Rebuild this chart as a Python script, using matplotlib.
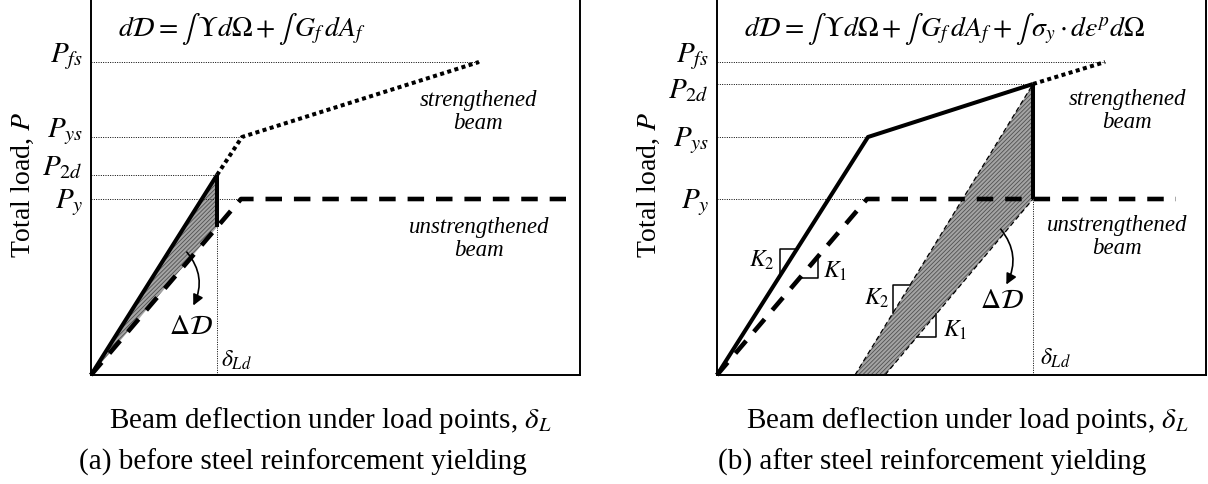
"""Schematic load-deflection diagrams for a strengthened vs unstrengthened beam.

Two panels: (a) debonding before steel yielding, (b) after steel yielding.
Units are arbitrary (schematic), measured from the origin of each panel.
"""

import matplotlib.pyplot as plt
import numpy as np

plt.rcParams["font.family"] = ["Liberation Serif", "DejaVu Serif"]
plt.rcParams["mathtext.fontset"] = "stix"
plt.rcParams["hatch.linewidth"] = 0.6

# --- schematic curves (deflection, load) ---------------------------------
STRENGTH_X = [0, 151, 388]
STRENGTH_Y = [0, 238, 313]
UNSTR_X_A = [0, 150, 475]
UNSTR_X_B = [0, 150, 459]
UNSTR_Y = [0, 176, 176]

# load levels marked on the vertical axis
LEVEL_LABELS_A = [r"$P_{fs}$", r"$P_{ys}$", r"$P_{2d}$", r"$P_{y}$"]
LEVELS_A = [313, 238, 200, 176]
GUIDE_END_A = [388, 151, 126, 150]
LEVEL_LABELS_B = [r"$P_{fs}$", r"$P_{2d}$", r"$P_{ys}$", r"$P_{y}$"]
LEVELS_B = [313, 291, 238, 176]
GUIDE_END_B = [388, 316, 151, 150]

# deflection at debonding and the corresponding loads
DELTA_LD_A = 126
P2D_A = 200
PY_AT_LD_A = 148
DELTA_LD_B = 316
P2D_B = 291
PY_AT_LD_B = 176

# unloading lines of panel (b)
UNLOAD_UPPER_X = [138, 316]
UNLOAD_UPPER_Y = [0, 291]
UNLOAD_LOWER_X = [168, 316]
UNLOAD_LOWER_Y = [0, 176]

EQ_A = r"$d\mathcal{D} = \int\,\Upsilon d\Omega + \int\, G_f\, dA_f$"
EQ_B = (r"$d\mathcal{D} = \int\,\Upsilon d\Omega + \int\, G_f\, dA_f"
        r" + \int\,\sigma_y\cdot d\varepsilon^p d\Omega$")
XLABEL = r"Beam deflection under load points, $\delta_L$"
YLABEL = r"Total load, $P$"
CAPTION_A = "(a) before steel reinforcement yielding"
CAPTION_B = "(b) after steel reinforcement yielding"

FIG_W, FIG_H = 1208, 484
AX_W, AX_H = 489, 378

# baseline shift of each level label relative to its guide line
LABEL_DY_A = [0, 0, 0, -9]
LABEL_DY_B = [0, -14, -9, -9]

SOLID = dict(color="black", lw=2.9, solid_capstyle="butt", clip_on=False)
DASHED = dict(color="black", lw=3.3, linestyle=(0, (3.6, 2.6)),
              dash_capstyle="butt", clip_on=False)
DOTTED = dict(color="black", lw=2.9, linestyle=(0, (1, 0.85)),
              dash_capstyle="butt", clip_on=False)
GUIDE = dict(color="black", lw=0.7, linestyle=(0, (1, 1.4)))
THIN_DASH = dict(color="black", lw=0.9, linestyle=(0, (4, 2.5)))
SHADE = dict(facecolor="#a4a4a4", edgecolor="#505050", hatch="////////", lw=0)


def split_at(xs, ys, x_cut, y_cut):
    """Split a polyline into the part before and after x_cut."""
    xs, ys = np.asarray(xs), np.asarray(ys)
    before, after = xs < x_cut, xs > x_cut
    first = (np.append(xs[before], x_cut), np.append(ys[before], y_cut))
    second = (np.insert(xs[after], 0, x_cut), np.insert(ys[after], 0, y_cut))
    return first, second


def slope_mark(ax, line_x, line_y, xa, xb, upper):
    """Little right-angle slope marker sitting on a straight line."""
    ya, yb = np.interp([xa, xb], line_x, line_y)
    if upper:
        ax.plot([xa, xa, xb], [ya, yb, yb], color="black", lw=1.1)
    else:
        ax.plot([xa, xb, xb], [ya, ya, yb], color="black", lw=1.1)


def setup_frame(ax):
    ax.set_xlim(0, AX_W)
    ax.set_ylim(0, AX_H)
    ax.set_xticks([])
    ax.set_yticks([])
    for sp in ax.spines.values():
        sp.set_linewidth(1.4)


def common_text(ax, labels, levels, guide_end, label_dy, eq, xlabel_x,
                caption, caption_x):
    for lab, lev, end, dy in zip(labels, levels, guide_end, label_dy):
        ax.plot([0, end], [lev, lev], **GUIDE)
        ax.text(-8, lev + dy, lab, ha="right", va="baseline", fontsize=21)
    ax.text(-68, 190, YLABEL, rotation=90, ha="center", va="center", fontsize=20)
    ax.text(27, 346, eq, ha="left", va="center", fontsize=20)
    ax.text(xlabel_x, -45, XLABEL, ha="center", va="center", fontsize=21)
    ax.text(caption_x, -87, caption, ha="center", va="center", fontsize=21)


def curved_arrow(ax, start, end):
    ax.annotate("", xy=end, xytext=start,
                arrowprops=dict(arrowstyle="-|>", color="black", lw=1.2,
                                mutation_scale=16,
                                connectionstyle="arc3,rad=-0.35"))


def panel_a(ax):
    setup_frame(ax)
    common_text(ax, LEVEL_LABELS_A, LEVELS_A, GUIDE_END_A, LABEL_DY_A, EQ_A,
                239, CAPTION_A, 212)

    ax.fill([0, DELTA_LD_A, DELTA_LD_A], [0, P2D_A, PY_AT_LD_A], **SHADE)
    solid, dotted = split_at(STRENGTH_X, STRENGTH_Y, DELTA_LD_A, P2D_A)
    ax.plot(*solid, **SOLID)
    ax.plot(*dotted, **DOTTED)
    ax.plot(UNSTR_X_A, UNSTR_Y, **DASHED)
    ax.plot([DELTA_LD_A, DELTA_LD_A], [PY_AT_LD_A, P2D_A], **SOLID)
    ax.plot([DELTA_LD_A, DELTA_LD_A], [0, PY_AT_LD_A], **GUIDE)

    ax.text(130, 15, r"$\delta_{Ld}$", ha="left", va="center", fontsize=17)
    ax.text(100, 47, r"$\Delta\mathcal{D}$", ha="center", va="center", fontsize=20)
    curved_arrow(ax, (94, 125), (101, 67))

    ax.text(387, 263, "strengthened\nbeam", ha="center", va="center",
            style="italic", fontsize=16.5, linespacing=1.15)
    ax.text(388, 136, "unstrengthened\nbeam", ha="center", va="center",
            style="italic", fontsize=16.5, linespacing=1.15)


def panel_b(ax):
    setup_frame(ax)
    common_text(ax, LEVEL_LABELS_B, LEVELS_B, GUIDE_END_B, LABEL_DY_B, EQ_B,
                250, CAPTION_B, 215)

    band_x = UNLOAD_UPPER_X + UNLOAD_LOWER_X[::-1]
    band_y = UNLOAD_UPPER_Y + UNLOAD_LOWER_Y[::-1]
    ax.fill(band_x, band_y, **SHADE)
    ax.plot(UNLOAD_UPPER_X, UNLOAD_UPPER_Y, **THIN_DASH)
    ax.plot(UNLOAD_LOWER_X, UNLOAD_LOWER_Y, **THIN_DASH)

    solid, dotted = split_at(STRENGTH_X, STRENGTH_Y, DELTA_LD_B, P2D_B)
    ax.plot(*solid, **SOLID)
    ax.plot(*dotted, **DOTTED)
    ax.plot(UNSTR_X_B, UNSTR_Y, **DASHED)
    ax.plot([DELTA_LD_B, DELTA_LD_B], [PY_AT_LD_B, P2D_B], **SOLID)
    ax.plot([DELTA_LD_B, DELTA_LD_B], [0, PY_AT_LD_B], **GUIDE)

    # stiffness markers
    slope_mark(ax, STRENGTH_X, STRENGTH_Y, 63, 80, upper=True)
    slope_mark(ax, UNSTR_X_B, UNSTR_Y, 83, 101, upper=False)
    slope_mark(ax, UNLOAD_UPPER_X, UNLOAD_UPPER_Y, 176, 193, upper=True)
    slope_mark(ax, UNLOAD_LOWER_X, UNLOAD_LOWER_Y, 200, 219, upper=False)
    ax.text(58, 115, r"$K_2$", ha="right", va="center", fontsize=17)
    ax.text(106, 104, r"$K_1$", ha="left", va="center", fontsize=17)
    ax.text(173, 77, r"$K_2$", ha="right", va="center", fontsize=17)
    ax.text(226, 45, r"$K_1$", ha="left", va="center", fontsize=17)

    ax.text(323, 17, r"$\delta_{Ld}$", ha="left", va="center", fontsize=17)
    ax.text(285, 74, r"$\Delta\mathcal{D}$", ha="center", va="center", fontsize=20)
    curved_arrow(ax, (282, 148), (288, 88))

    ax.text(410, 264, "strengthened\nbeam", ha="center", va="center",
            style="italic", fontsize=16.5, linespacing=1.15)
    ax.text(400, 138, "unstrengthened\nbeam", ha="center", va="center",
            style="italic", fontsize=16.5, linespacing=1.15)


def main():
    fig = plt.figure(figsize=(FIG_W / 100, FIG_H / 100), dpi=100)
    bottom = (FIG_H - 375) / FIG_H
    ax_a = fig.add_axes([91 / FIG_W, bottom, AX_W / FIG_W, AX_H / FIG_H])
    ax_b = fig.add_axes([717 / FIG_W, bottom, AX_W / FIG_W, AX_H / FIG_H])
    panel_a(ax_a)
    panel_b(ax_b)
    fig.savefig("out.png", dpi=100)
    plt.close(fig)


if __name__ == "__main__":
    main()
